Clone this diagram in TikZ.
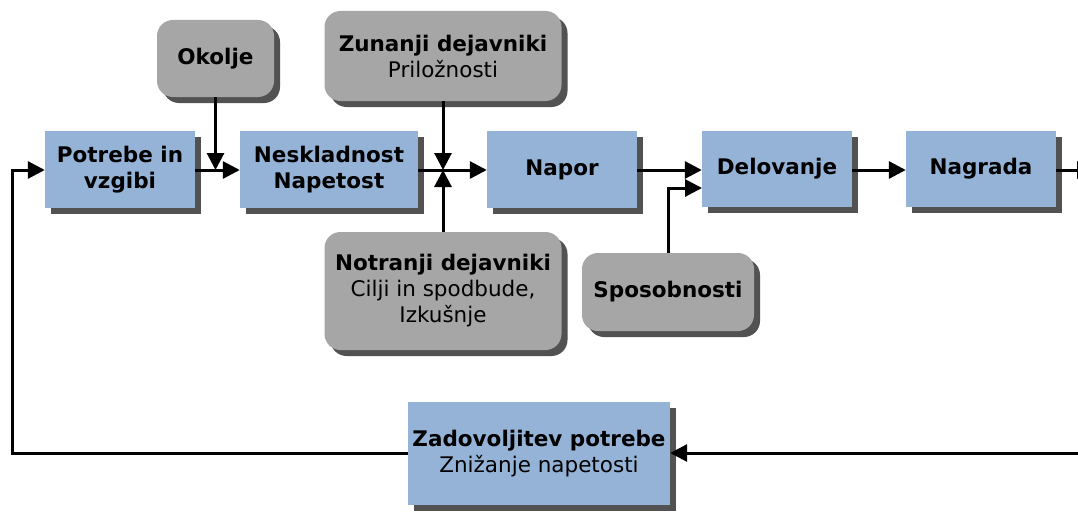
\documentclass[tikz,border=0pt]{standalone}
\usepackage{fontspec}
\setmainfont{DejaVu Sans}
\usetikzlibrary{arrows.meta,shadows,calc}
\definecolor{boxblue}{HTML}{95B3D7}
\definecolor{boxgray}{HTML}{A6A6A6}
\tikzset{
  base/.style={draw=none, align=center, inner sep=0pt,
    font=\fontsize{21.5}{26}\selectfont,
    drop shadow={shadow xshift=6pt, shadow yshift=-6pt, fill=black!75, opacity=0.9}},
  bluebox/.style={base, fill=boxblue, minimum width=#1},
  graybox/.style={base, fill=boxgray, rounded corners=16pt, minimum width=#1},
  arr/.style={line width=3pt, -{Triangle[length=17pt,width=17pt]}}
}
\begin{document}
\begin{tikzpicture}[x=1pt,y=-1pt]
\clip (0,0) rectangle (1078,511);
\fill[white] (0,0) rectangle (1078,511);

% main chain
\node[bluebox=150pt, minimum height=77pt] (pot) at (120,169.5) {\bfseries Potrebe in\\\bfseries vzgibi};
\node[bluebox=178pt, minimum height=77pt] (nes) at (329,169.5) {\bfseries Neskladnost\\\bfseries Napetost};
\node[bluebox=150pt, minimum height=77pt] (nap) at (562,169.5) {\bfseries Napor};
\node[bluebox=150pt, minimum height=76pt] (del) at (777,169) {\bfseries Delovanje};
\node[bluebox=150pt, minimum height=76pt] (nag) at (981,169) {\bfseries Nagrada};

% influencing factors
\node[graybox=117pt, minimum height=77pt] (oko) at (215.5,58.5) {\bfseries Okolje};
\node[graybox=237pt, minimum height=90pt] (zun) at (443,56) {\bfseries Zunanji dejavniki\\Priložnosti};
\node[graybox=237pt, minimum height=118pt] (notr) at (443,291) {\bfseries Notranji dejavniki\\Cilji in spodbude,\\Izkušnje};
\node[graybox=172pt, minimum height=78pt] (spo) at (668,292) {\bfseries Sposobnosti};

% feedback
\node[bluebox=262pt, minimum height=103pt] (zad) at (539,453.5) {\bfseries Zadovoljitev potrebe\\Znižanje napetosti};

% helper points
\coordinate (outR) at (1094,170);
\coordinate (inR) at (1095,453);
\coordinate (cL) at (12,170);
\coordinate (delIn) at (702,188);

% connectors
\draw[arr] (pot.east |- 0,170) -- (nes.west |- 0,170);
\draw[arr] (oko.south) -- (oko.south |- 0,170);
\draw[arr] (nes.east |- 0,170) -- (nap.west |- 0,170);
\draw[arr] (zun.south) -- (zun.south |- 0,170);
\draw[arr] (notr.north) -- (notr.north |- 0,170);
\draw[arr] (nap.east |- 0,170) -- (del.west |- 0,170);
\draw[arr] (spo.north) |- (delIn);
\draw[arr] (del.east |- 0,170) -- (nag.west |- 0,170);
\draw[arr] (nag.east |- 0,170) -- (outR);
\draw[arr] (inR) -- (zad.east |- 0,453);
\draw[arr] (zad.west |- 0,453) -| (cL) -- (pot.west |- 0,170);
\end{tikzpicture}
\end{document}
